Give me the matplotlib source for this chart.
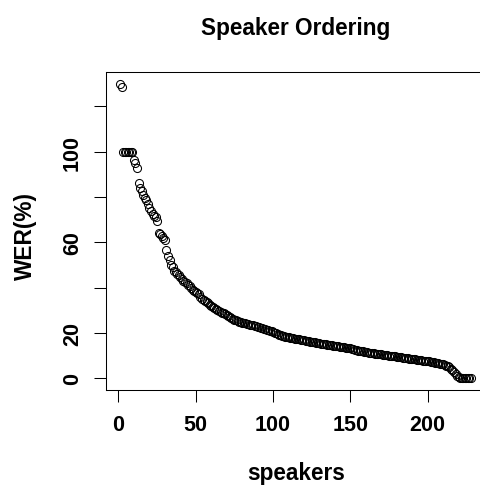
import numpy as np
import matplotlib
matplotlib.use("Agg")
import matplotlib.pyplot as plt

plt.rcParams['font.family'] = ['Liberation Sans', 'DejaVu Sans']
plt.rcParams['font.weight'] = 'bold'

# word error rate per speaker, sorted from worst to best
wer = [
    130.0, 128.5,
    100, 100, 100, 100, 100, 100, 100,
    96.5, 95.0, 93.0,
    86.0, 84.0, 82.5, 81.0, 79.5, 78.5, 77.0, 75.0, 74.0, 72.5,
    71.5, 71.0, 69.5, 64.0, 63.5, 63.0, 62.0, 61.0, 56.5, 54.0,
    52.0, 50.0, 49.0, 47.5, 47.0, 46.0, 45.5, 44.5, 44.0, 43.0,
    42.5, 42.0, 41.0, 40.5, 40.0, 39.0, 38.5, 38.0, 37.5, 37.0,
    36.0, 35.0, 34.5, 34.0, 33.5, 33.0, 32.5, 32.0, 31.5, 31.0,
    30.5, 30.2, 29.8, 29.4, 29.0, 28.6, 28.2, 27.8, 27.4, 27.0,
    26.6, 26.2, 25.9, 25.6, 25.3, 25.0, 24.8, 24.6, 24.4, 24.2,
    24.0, 23.9, 23.7, 23.5, 23.3, 23.1, 22.9, 22.7, 22.5, 22.3,
    22.1, 21.9, 21.7, 21.5, 21.3, 21.0, 20.7, 20.4, 20.1, 19.8,
    19.5, 19.2, 19.0, 18.8, 18.6, 18.4, 18.2, 18.0, 17.9, 17.8,
    17.6, 17.5, 17.4, 17.3, 17.2, 17.0, 16.9, 16.7, 16.6, 16.5,
    16.4, 16.2, 16.1, 16.0, 15.8, 15.7, 15.6, 15.4, 15.3, 15.2,
    15.0, 14.9, 14.8, 14.7, 14.6, 14.5, 14.4, 14.3, 14.2, 14.1,
    14.0, 13.9, 13.8, 13.6, 13.5, 13.4, 13.3, 13.2, 13.0, 12.8,
    12.6, 12.4, 12.2, 12.0, 11.9, 11.8, 11.6, 11.5, 11.4, 11.3,
    11.2, 11.1, 11.0, 10.9, 10.8, 10.7, 10.6, 10.5, 10.4, 10.3,
    10.2, 10.1, 10.0, 9.9, 9.8, 9.7, 9.6, 9.5, 9.4, 9.3,
    9.2, 9.1, 9.0, 8.9, 8.8, 8.7, 8.6, 8.5, 8.4, 8.3,
    8.2, 8.1, 8.0, 7.9, 7.8, 7.7, 7.6, 7.5, 7.4, 7.3,
    7.2, 7.0, 6.9, 6.8, 6.6, 6.5, 6.3, 6.1, 5.9, 5.6,
    5.2, 4.8, 4.2, 3.6, 2.8, 1.8, 1.0, 0.4,
    0, 0, 0, 0, 0, 0, 0, 0,
]
speakers = np.arange(1, len(wer) + 1)

xticks = [0, 50, 100, 150, 200]
yticks = [0, 20, 40, 60, 80, 100, 120]
ytick_labels = ['0', '20', '', '60', '', '100', '']

W, H = 481, 489
fig = plt.figure(figsize=(W / 100, H / 100), dpi=100)
# the plot box is wider than the image, so its right side is cut off
left_px, right_px = 106, 520
ax = fig.add_axes([left_px / W, 1 - 391 / H, (right_px - left_px) / W, (391 - 73) / H])

ax.plot(speakers, wer, linestyle='none', marker='o', markersize=5.8,
        markerfacecolor='none', markeredgecolor='black', markeredgewidth=0.75)
ax.margins(y=0.04)
# 4% padding on the left, same px-per-unit scale as a 379 px wide box
pad = 0.04 * (len(wer) - 1)
x0, x1 = 1 - pad, len(wer) + pad
ax.set_xlim(x0, x0 + (x1 - x0) * (right_px - left_px) / 379)

ax.set_xticks(xticks)
ax.set_xticklabels([str(t) for t in xticks])
ax.set_yticks(yticks)
ax.set_yticklabels(ytick_labels, rotation=90, va='center')
ax.tick_params(axis='both', direction='out', length=8.6, width=0.75,
               labelsize=15.5, colors='black')
ax.tick_params(axis='x', pad=9)
ax.tick_params(axis='y', pad=8)
for s in ax.spines.values():
    s.set_linewidth(0.75)
ax.spines['right'].set_visible(False)

fig.text(296 / W, 1 - 35 / H, 'Speaker Ordering', ha='center', va='baseline',
         fontsize=16.3, fontweight='bold')
fig.text(296 / W, 1 - 480 / H, 'speakers', ha='center', va='baseline',
         fontsize=16.3, fontweight='bold')
fig.text(25 / W, 1 - 236 / H, 'WER(%)', ha='center', va='center',
         rotation=90, fontsize=16.3, fontweight='bold')

fig.savefig('out.png', dpi=100)
